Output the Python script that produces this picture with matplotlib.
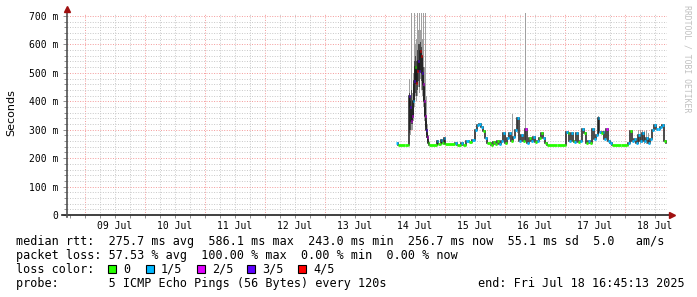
import matplotlib
matplotlib.use("Agg")
import matplotlib.pyplot as plt
from matplotlib.patches import Rectangle

# x values: hours since 2025-07-14 00:00, y values: median rtt in ms
hours = [4.4, 5.2, 8.0, 9.2, 9.6, 10.0, 10.4, 10.8, 11.2, 11.6, 12.0, 12.4,
         12.8, 13.2, 13.6, 14.0, 14.4, 14.8, 15.2, 15.6, 16.0, 16.4, 16.8,
         17.2, 17.6, 20.8, 21.2, 22.4, 22.8, 23.6, 24.0, 28.0, 28.8, 30.4,
         31.2, 32.4, 33.6, 34.8, 36.0, 36.8, 37.6, 38.4, 39.2, 40.0, 40.8,
         42.4, 43.2, 44.0, 44.8, 45.6, 46.4, 47.2, 48.0, 48.8, 49.6, 50.4,
         51.2, 52.0, 52.8, 53.6, 54.4, 55.2, 56.0, 56.8, 57.6, 58.4, 59.2,
         60.0, 60.8, 61.6, 62.4, 63.2, 64.0, 64.8, 68.8, 72.0, 72.4, 73.2,
         73.6, 74.4, 75.2, 75.6, 76.4, 77.2, 78.0, 78.8, 79.6, 80.4, 81.2,
         82.0, 82.8, 83.6, 84.4, 85.2, 85.6, 86.4, 87.2, 87.6, 88.4, 89.2,
         90.0, 90.8, 94.4, 96.8, 97.2, 98.0, 98.8, 99.6, 100.4, 101.2, 102.0,
         102.8, 103.6, 104.4, 105.2, 106.0, 106.8, 107.6, 108.4, 109.2, 110.0,
         110.8, 111.6, 112.4]
median_ms = [252, 245, 245, 245, 420, 380, 330, 350, 400, 470, 520, 466,
             505, 540, 507, 577, 560, 500, 460, 400, 350, 300, 275,
             255, 248, 262, 250, 265, 255, 270, 250, 255, 248, 255,
             248, 262, 258, 265, 300, 315, 321, 310, 295, 270, 252,
             248, 258, 250, 260, 250, 262, 287, 255, 270, 287, 262,
             275, 300, 340, 262, 280, 262, 304, 255, 270, 262, 275,
             258, 262, 270, 287, 270, 255, 248, 245, 245, 292, 287,
             262, 290, 262, 257, 287, 257, 262, 304, 287, 252, 262,
             252, 304, 267, 280, 340, 292, 287, 292, 267, 304, 262,
             252, 245, 245, 245, 255, 297, 262, 267, 255, 280, 262,
             287, 262, 270, 255, 267, 300, 315, 304, 304, 308,
             315, 262, 252]
# lost pings (out of 5) per sample
loss = [1, 0, 0, 0, 3, 3, 2, 2, 1, 3, 0, 4,
        4, 3, 3, 4, 4, 3, 2, 2, 2, 3, 2,
        0, 0, 1, 0, 1, 0, 1, 0, 1, 0, 1,
        0, 1, 0, 1, 1, 1, 1, 1, 0, 1, 0,
        0, 0, 0, 0, 1, 1, 1, 0, 1, 1, 0,
        1, 1, 1, 1, 1, 0, 2, 1, 0, 1, 1,
        0, 1, 0, 0, 1, 0, 0, 0, 0, 1, 0,
        1, 1, 0, 1, 1, 0, 1, 1, 0, 0, 1,
        0, 1, 1, 1, 1, 1, 0, 1, 1, 2, 1,
        1, 0, 0, 0, 1, 0, 1, 1, 1, 1, 1,
        1, 1, 1, 1, 1, 1, 1, 1, 1, 1,
        1, 0, 0]

# smoke (spread of the individual pings), ms
smoke_hours = [9.6, 10.0, 10.4, 10.8, 11.2, 11.6, 12.0, 12.4, 12.8, 13.2,
               13.6, 14.0, 14.4, 14.8, 15.2, 15.6, 16.0, 16.4, 16.8, 17.2,
               50.8, 52.8, 56.0, 85.2, 101.2, 102.0, 102.8, 103.6, 104.4,
               105.2]
smoke_lo = [290, 280, 300, 300, 330, 380, 420, 400, 420, 450,
            430, 480, 440, 420, 380, 330, 300, 270, 255, 250,
            262, 290, 262, 280, 250, 250, 255, 250, 250, 250]
smoke_hi = [480, 420, 750, 430, 500, 750, 600, 620, 750, 650,
            750, 650, 750, 620, 750, 520, 750, 420, 320, 280,
            357, 345, 750, 350, 300, 300, 300, 295, 300, 290]
# denser core of the smoke during the spike, ms
core_lo = [300, 300, 320, 320, 340, 400, 430, 420, 440, 470,
           450, 500, 470, 440, 400, 350, 310, 280, 260, 252]
core_hi = [430, 400, 440, 400, 460, 540, 560, 540, 580, 600,
           600, 610, 590, 560, 520, 450, 380, 330, 290, 260]

day_labels = ["09 Jul", "10 Jul", "11 Jul", "12 Jul", "13 Jul",
              "14 Jul", "15 Jul", "16 Jul", "17 Jul", "18 Jul"]
y_labels = ["0", "100 m", "200 m", "300 m", "400 m", "500 m", "600 m", "700 m"]
loss_labels = ["0", "1/5", "2/5", "3/5", "4/5"]
loss_colors = ["#26ff00", "#00b8ff", "#e000ff", "#5e00ff", "#ff0000"]

start_h = -127.246   # Tue Jul 08 16:45:13
end_h = 112.754      # Fri Jul 18 16:45:13

W, H = 697, 297
fig = plt.figure(figsize=(W / 100, H / 100), dpi=100)
fig.patch.set_facecolor("white")
ax = fig.add_axes([67 / W, (H - 215) / H, 600 / W, 202 / H])
ax.set_xlim(start_h, end_h)
ax.set_ylim(0, 0.7106)
for s in ax.spines.values():
    s.set_visible(False)

# dotted grid
for h in range(-120, 113, 6):
    c = "#f49a9a" if h % 24 == 0 else "#c8c8c8"
    ax.axvline(h, color=c, lw=0.7, ls=(0, (1, 1.6)), zorder=0)
for ms in range(20, 701, 20):
    c = "#f49a9a" if ms % 100 == 0 else "#c8c8c8"
    ax.axhline(ms / 1000, color=c, lw=0.7, ls=(0, (1, 1.6)), zorder=0)

# smoke
ax.bar(smoke_hours, [(hi - lo) / 1000 for lo, hi in zip(smoke_lo, smoke_hi)],
       bottom=[lo / 1000 for lo in smoke_lo], width=0.4, align="edge",
       color="#a0a0a0", lw=0, zorder=1)
ax.bar(smoke_hours[:len(core_lo)],
       [(hi - lo) / 1000 for lo, hi in zip(core_lo, core_hi)],
       bottom=[lo / 1000 for lo in core_lo], width=0.4, align="edge",
       color="#4a4a4a", lw=0, zorder=1)

# median line, coloured by loss
n = len(hours)
for i in range(n):
    t0 = hours[i]
    t1 = hours[i + 1] if i + 1 < n else end_h - 0.3
    v = median_ms[i] / 1000
    if i + 1 < n:
        ax.plot([t1, t1], [v, median_ms[i + 1] / 1000], color="#1a1a1a",
                lw=1.1, zorder=2)
    ax.plot([t0, t1], [v, v], color=loss_colors[loss[i]], lw=2.0,
            solid_capstyle="butt", zorder=3)

# ticks
mono = "DejaVu Sans Mono"
ax.set_xticks([-108 + 24 * k for k in range(10)], labels=day_labels)
ax.set_xticks([h for h in range(-126, 113, 6) if (h - 12) % 24 != 0], minor=True)
ax.set_yticks([k / 10 for k in range(8)], labels=y_labels)
ax.set_yticks([ms / 1000 for ms in range(20, 701, 20) if ms % 100], minor=True)
ax.tick_params(axis="both", which="both", color="#909090", width=0.7)
ax.tick_params(axis="x", which="both", length=2, pad=2.5)
ax.tick_params(axis="y", which="major", length=3, pad=3)
ax.tick_params(axis="y", which="minor", length=2)
for lab in ax.get_xticklabels() + ax.get_yticklabels():
    lab.set_fontfamily(mono)
    lab.set_fontsize(7)

# axis lines with arrows
ax.plot([-0.008, 1.006], [0, 0], color="#202020", lw=1.2,
        transform=ax.transAxes, clip_on=False, zorder=5)
ax.plot([0, 0], [-0.01, 1.01], color="#505050", lw=1.2,
        transform=ax.transAxes, clip_on=False, zorder=5)
ax.plot([1.009], [0], marker=">", ms=4, color="#a01010",
        transform=ax.transAxes, clip_on=False, zorder=6)
ax.plot([0], [1.022], marker="^", ms=4, color="#a01010",
        transform=ax.transAxes, clip_on=False, zorder=6)

fig.text(11 / W, 1 - 113 / H, "Seconds", rotation=90, ha="center",
         va="center", fontsize=8, family="DejaVu Sans")
fig.text(687 / W, 1 - 5 / H, "RRDTOOL / TOBI OETIKER", rotation=270,
         ha="center", va="top", fontsize=5.9, family=mono, color="#c0c0c0")

# legend rows
fs = 8.45
rows = [
    "median rtt:  275.7 ms avg  586.1 ms max  243.0 ms min  256.7 ms now  55.1 ms sd  5.0   am/s",
    "packet loss: 57.53 % avg  100.00 % max  0.00 % min  0.00 % now",
    "loss color:",
    "probe:       5 ICMP Echo Pings (56 Bytes) every 120s",
]
row_y = [241.5, 255.5, 269.3, 283.3]
for txt, y in zip(rows, row_y):
    fig.text(16 / W, 1 - y / H, txt, ha="left", va="center",
             fontsize=fs, family=mono)
fig.text(478.5 / W, 1 - row_y[3] / H, "end: Fri Jul 18 16:45:13 2025",
         ha="left", va="center", fontsize=fs, family=mono)

box_x = [108, 146, 197, 247, 298]
for bx, col, lab in zip(box_x, loss_colors, loss_labels):
    fig.patches.append(Rectangle((bx / W, 1 - 272.7 / H), 7.5 / W, 8 / H,
                                 transform=fig.transFigure, facecolor=col,
                                 edgecolor="black", lw=0.8))
    fig.text((bx + 15) / W, 1 - row_y[2] / H, lab, ha="left", va="center",
             fontsize=fs, family=mono)

fig.savefig("out.png", dpi=100)
